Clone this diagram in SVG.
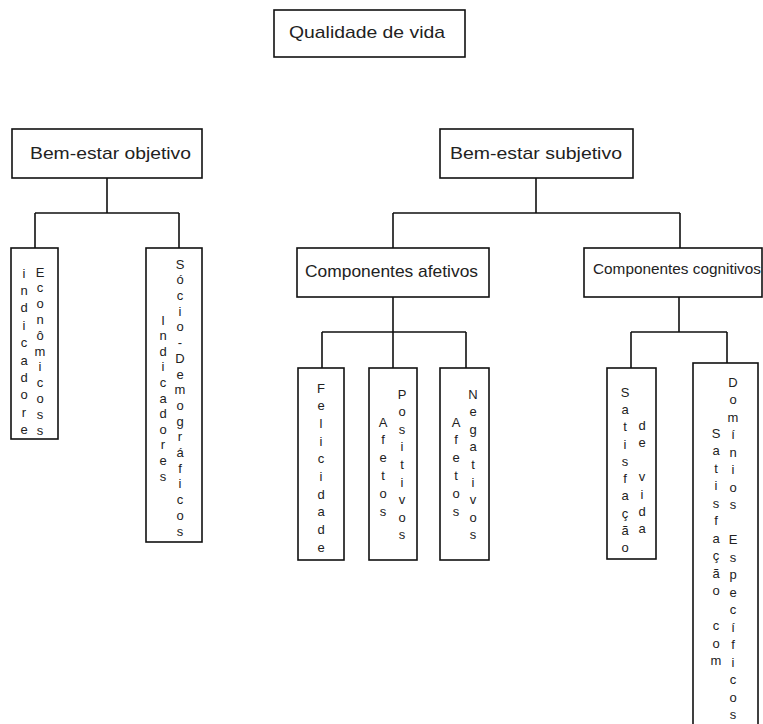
<svg xmlns="http://www.w3.org/2000/svg" width="763" height="724" viewBox="0 0 763 724">
<style>
  .box { fill: #fff; stroke: #111; stroke-width: 1.6; }
  .lbl { font-family: "Liberation Sans", Arial, sans-serif; font-size: 17px; fill: #222; text-anchor: middle; }
  .v { font-family: "Liberation Sans", Arial, sans-serif; font-size: 13px; fill: #222; text-anchor: middle; }
  .conn { fill: none; stroke: #111; stroke-width: 1.6; }
</style>
<rect width="763" height="724" fill="#fff"/>
<g id="connectors">
  <path class="conn" d="M107 178 V213 M35 213 H179 M35 213 V248 M179 213 V248"/>
  <path class="conn" d="M536 178 V213 M393 213 H680 M393 213 V248 M680 213 V248"/>
  <path class="conn" d="M393 297 V332 M322 332 H466 M322 332 V368 M393 332 V368 M466 332 V368"/>
  <path class="conn" d="M679 297 V332 M631 332 H727 M631 332 V368 M727 332 V363"/>
</g>
<g id="qualidade">
  <rect class="box" x="274" y="10" width="191" height="47"/>
  <text class="lbl" x="367" y="38" textLength="156" lengthAdjust="spacingAndGlyphs">Qualidade de vida</text>
</g>
<g id="bem-estar-objetivo">
  <rect class="box" x="12" y="129" width="190" height="49"/>
  <text class="lbl" x="110.5" y="159" textLength="161" lengthAdjust="spacingAndGlyphs">Bem-estar objetivo</text>
</g>
<g id="bem-estar-subjetivo">
  <rect class="box" x="440" y="129" width="193" height="49"/>
  <text class="lbl" x="536" y="159" textLength="172" lengthAdjust="spacingAndGlyphs">Bem-estar subjetivo</text>
</g>
<g id="componentes-afetivos">
  <rect class="box" x="297" y="248" width="192" height="49"/>
  <text class="lbl" x="391.5" y="277" textLength="173" lengthAdjust="spacingAndGlyphs">Componentes afetivos</text>
</g>
<g id="componentes-cognitivos">
  <rect class="box" x="584" y="248" width="178" height="49"/>
  <text class="lbl" x="677" y="274" style="font-size:15px" textLength="168" lengthAdjust="spacingAndGlyphs">Componentes cognitivos</text>
</g>
<g id="indicadores-economicos">
  <rect class="box" x="11" y="248" width="47" height="191"/>
  <text class="v"><tspan x="24" y="278">i</tspan><tspan x="24" y="295">n</tspan><tspan x="24" y="312">d</tspan><tspan x="24" y="330">i</tspan><tspan x="24" y="347">c</tspan><tspan x="24" y="365">a</tspan><tspan x="24" y="382">d</tspan><tspan x="24" y="399">o</tspan><tspan x="24" y="417">r</tspan><tspan x="24" y="434">e</tspan></text>
  <text class="v"><tspan x="40" y="277">E</tspan><tspan x="40" y="292">c</tspan><tspan x="40" y="308">o</tspan><tspan x="40" y="324">n</tspan><tspan x="40" y="340">ô</tspan><tspan x="40" y="356">m</tspan><tspan x="40" y="371">i</tspan><tspan x="40" y="387">c</tspan><tspan x="40" y="403">o</tspan><tspan x="40" y="419">s</tspan><tspan x="40" y="435">s</tspan></text>
</g>
<g id="indicadores-socio-demograficos">
  <rect class="box" x="146" y="248" width="56" height="294"/>
  <text class="v"><tspan x="163" y="325">I</tspan><tspan x="163" y="340">n</tspan><tspan x="163" y="356">d</tspan><tspan x="163" y="371">i</tspan><tspan x="163" y="387">c</tspan><tspan x="163" y="403">a</tspan><tspan x="163" y="418">d</tspan><tspan x="163" y="434">o</tspan><tspan x="163" y="449">r</tspan><tspan x="163" y="465">e</tspan><tspan x="163" y="481">s</tspan></text>
  <text class="v"><tspan x="180" y="269">S</tspan><tspan x="180" y="284">ó</tspan><tspan x="180" y="300">c</tspan><tspan x="180" y="316">i</tspan><tspan x="180" y="331">o</tspan><tspan x="180" y="347">-</tspan><tspan x="180" y="363">D</tspan><tspan x="180" y="379">e</tspan><tspan x="180" y="394">m</tspan><tspan x="180" y="410">o</tspan><tspan x="180" y="426">g</tspan><tspan x="180" y="441">r</tspan><tspan x="180" y="457">á</tspan><tspan x="180" y="473">f</tspan><tspan x="180" y="488">i</tspan><tspan x="180" y="504">c</tspan><tspan x="180" y="520">o</tspan><tspan x="180" y="536">s</tspan></text>
</g>
<g id="felicidade">
  <rect class="box" x="298" y="368" width="46" height="192"/>
  <text class="v"><tspan x="321" y="393">F</tspan><tspan x="321" y="410">e</tspan><tspan x="321" y="428">l</tspan><tspan x="321" y="446">i</tspan><tspan x="321" y="463">c</tspan><tspan x="321" y="481">i</tspan><tspan x="321" y="499">d</tspan><tspan x="321" y="516">a</tspan><tspan x="321" y="534">d</tspan><tspan x="321" y="552">e</tspan></text>
</g>
<g id="afetos-positivos">
  <rect class="box" x="369" y="368" width="48" height="192"/>
  <text class="v"><tspan x="383" y="427">A</tspan><tspan x="383" y="444">f</tspan><tspan x="383" y="462">e</tspan><tspan x="383" y="480">t</tspan><tspan x="383" y="498">o</tspan><tspan x="383" y="516">s</tspan></text>
  <text class="v"><tspan x="402" y="399">P</tspan><tspan x="402" y="416">o</tspan><tspan x="402" y="434">s</tspan><tspan x="402" y="451">i</tspan><tspan x="402" y="469">t</tspan><tspan x="402" y="487">i</tspan><tspan x="402" y="504">v</tspan><tspan x="402" y="522">o</tspan><tspan x="402" y="539">s</tspan></text>
</g>
<g id="afetos-negativos">
  <rect class="box" x="440" y="368" width="49" height="192"/>
  <text class="v"><tspan x="456" y="427">A</tspan><tspan x="456" y="444">f</tspan><tspan x="456" y="462">e</tspan><tspan x="456" y="480">t</tspan><tspan x="456" y="498">o</tspan><tspan x="456" y="516">s</tspan></text>
  <text class="v"><tspan x="473" y="399">N</tspan><tspan x="473" y="416">e</tspan><tspan x="473" y="434">g</tspan><tspan x="473" y="451">a</tspan><tspan x="473" y="469">t</tspan><tspan x="473" y="487">i</tspan><tspan x="473" y="504">v</tspan><tspan x="473" y="522">o</tspan><tspan x="473" y="539">s</tspan></text>
</g>
<g id="satisfacao-de-vida">
  <rect class="box" x="607" y="368" width="49" height="191"/>
  <text class="v"><tspan x="625" y="397">S</tspan><tspan x="625" y="414">a</tspan><tspan x="625" y="431">t</tspan><tspan x="625" y="449">i</tspan><tspan x="625" y="466">s</tspan><tspan x="625" y="483">f</tspan><tspan x="625" y="500">a</tspan><tspan x="625" y="518">ç</tspan><tspan x="625" y="535">ã</tspan><tspan x="625" y="552">o</tspan></text>
  <text class="v"><tspan x="642" y="430">d</tspan><tspan x="642" y="447">e</tspan><tspan x="642" y="481">v</tspan><tspan x="642" y="499">i</tspan><tspan x="642" y="516">d</tspan><tspan x="642" y="533">a</tspan></text>
</g>
<g id="satisfacao-com-dominios">
  <rect class="box" x="693" y="363" width="65" height="370"/>
  <text class="v"><tspan x="716" y="438">S</tspan><tspan x="716" y="455">a</tspan><tspan x="716" y="473">t</tspan><tspan x="716" y="490">i</tspan><tspan x="716" y="508">s</tspan><tspan x="716" y="525">f</tspan><tspan x="716" y="543">a</tspan><tspan x="716" y="560">ç</tspan><tspan x="716" y="578">ã</tspan><tspan x="716" y="595">o</tspan><tspan x="716" y="630">c</tspan><tspan x="716" y="648">o</tspan><tspan x="716" y="665">m</tspan></text>
  <text class="v"><tspan x="733" y="387">D</tspan><tspan x="733" y="404">o</tspan><tspan x="733" y="422">m</tspan><tspan x="733" y="439">í</tspan><tspan x="733" y="457">n</tspan><tspan x="733" y="474">i</tspan><tspan x="733" y="492">o</tspan><tspan x="733" y="509">s</tspan><tspan x="733" y="544">E</tspan><tspan x="733" y="562">s</tspan><tspan x="733" y="579">p</tspan><tspan x="733" y="597">e</tspan><tspan x="733" y="614">c</tspan><tspan x="733" y="632">í</tspan><tspan x="733" y="649">f</tspan><tspan x="733" y="667">i</tspan><tspan x="733" y="684">c</tspan><tspan x="733" y="702">o</tspan><tspan x="733" y="719">s</tspan></text>
</g>
</svg>
